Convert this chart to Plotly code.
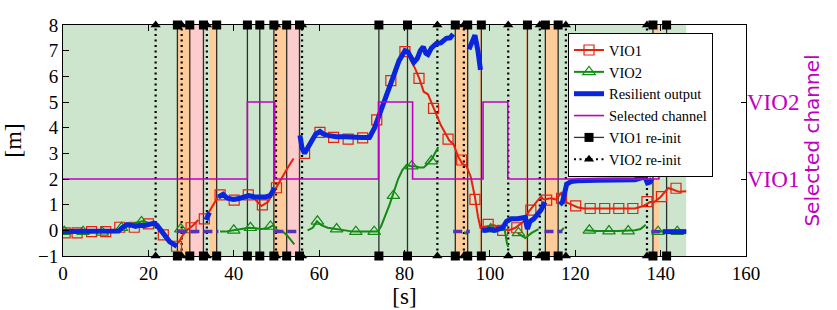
import plotly.graph_objects as go

# ---- data ----
# VIO1 estimate (None = gap)
vio1_t = [0, 5, 10, 13, 14, 15, 17, 19, 21, 22, 23, 24, 25, 26.5, None,
          27, 28, 29, 30.5, 31.7, None,
          33.4, 34.5, 35.5, 36.5, 38, 40, 42, 43.5, 45, 46.5, 48, 49.5, 51, 52.5, 54, None,
          55.5, 56.5, 58, 59.5, 61, 63, 66, 69, 71.5, 73, 74.5, 76, 77.5, 79, 80.5, 81.5,
          82.5, 83.5, 84.5, 85.5, 86.5, 87.5, 88.5, 89.5, 90.5, 91.5, 92.5, 93.5, 94.5,
          95.5, 96.5, 97.2, 97.8, 99, 101, 102.5, 104.4, 106, 107.9, 109.2, 110.7, 111.9,
          112.7, 114.3, 115.5, 116.7, 117.8, 119, 120.5, 122, 125, 130, 134, 136, 137.5,
          138.5, 140, 141, 141.8, 142.7, 144.3, 146]
vio1_y = [-0.08, -0.08, -0.05, 0.0, 0.15, 0.2, 0.15, 0.25, 0.25, 0.15, -0.05, -0.3, -0.45, -0.6, None,
          -0.5, -0.2, 0.0, 0.2, 0.4, None,
          0.5, 0.8, 1.05, 1.35, 1.3, 1.2, 1.3, 1.35, 1.2, 0.95, 1.1, 1.55, 2.0, 2.4, 2.8, None,
          3.7, 3.0, 3.5, 3.8, 3.75, 3.65, 3.6, 3.6, 3.6, 4.1, 4.6, 5.4, 6.1, 6.7, 7.0, 6.6,
          6.3, 5.9, 5.4, 5.3, 4.9, 4.5, 4.1, 3.8, 3.5, 3.35, 2.9, 2.6, 2.5,
          2.1, 1.3, 0.55, 0.1, 0.15, 0.2, 0.1, 0.0, 0.1, 0.35, 0.75, 1.05, 1.3,
          1.2, 1.25, 1.2, 1.45, 1.1, 1.0, 0.9, 0.85, 0.85, 0.85, 0.85, 0.95, 1.1,
          1.1, 1.3, 1.5, 1.65, 1.6, 1.5, 1.52]
vio1_mark_t = [0.5, 3.3, 6.7, 10, 13.3, 16.7, 20, 23.5, 26.6, 30, 33.1, 36.8, 40.1, 43.4, 46.7,
               50, 56.6, 60.2, 63.4, 66.8, 70.2, 73.5, 76.8, 80.1, 83.4, 86.8, 90.2, 93.4,
               96.5, 99.6, 103, 106.3, 109.6, 113.3, 116.8, 120.1, 123.5, 126.9, 130.2,
               133.5, 136.8, 140.2, 143.6]
vio1_mark_y = [-0.1, -0.1, -0.05, -0.05, 0.12, 0.12, 0.25, -0.18, -0.62, 0.1, 0.45, 1.38, 1.18,
               1.38, 0.99, 1.66, 3.0, 3.82, 3.62, 3.55, 3.6, 4.3, 5.83, 6.96, 5.92, 4.75, 3.55,
               2.74, 1.21, 0.23, 0.0, 0.1, 0.79, 1.18, 1.25, 0.95, 0.85, 0.85, 0.85, 0.85,
               1.12, 1.31, 1.64]

# VIO2 estimate
vio2_t = [0, 5, 10, 13, 14, 15, 17, 18.5, 20, 21.5, None,
          26.9, 28.3, None,
          36.8, 38, 40, 42, 43.5, 45, 46.5, 48, 49.3, None,
          50, 51.5, 52.5, 53.5, 54.2, None,
          57.3, 58.5, 59.5, 60.5, 62, 64, 66, 68, 70, 72, 73.7, 74.5, 75.5, 76.5, 77.5, 78.5,
          79.5, 80.5, 81.5, 82.5, 83.5, 84.5, 85.5, 86.5, 87.9, None,
          94, 94.6, None,
          98.2, 100, 102, 103.5, 104, 104.3, None,
          106.5, 108.3, 109.8, 111.4, None,
          116.8, 117.3, None,
          122.3, 125, 130, 134, 135.3, 136.5, None,
          138.5, 142, 146]
vio2_y = [-0.05, -0.05, -0.05, 0.0, 0.15, 0.2, 0.3, 0.35, 0.3, 0.25, None,
          0.0, 0.0, None,
          -0.05, -0.05, 0.0, 0.05, 0.1, 0.08, 0.05, 0.08, 0.2, None,
          0.0, -0.05, -0.2, -0.4, -0.55, None,
          0.0, 0.1, 0.35, 0.2, 0.1, 0.05, 0.0, -0.05, -0.05, -0.05, -0.05, 0.15, 0.55, 1.0, 1.5, 2.0,
          2.35, 2.55, 2.5, 2.5, 2.45, 2.45, 2.6, 2.8, 3.25, None,
          -0.05, -0.15, None,
          0.05, 0.1, 0.05, 0.0, -0.5, -0.65, None,
          -0.1, -0.3, -0.1, 0.05, None,
          0.0, 0.1, None,
          0.0, -0.03, -0.03, 0.0, 0.05, 0.22, None,
          -0.05, -0.05, -0.05]
vio2_mark_t = [0.3, 4.7, 9.2, 13.7, 18.4, 27.6, 40.0, 43.9, 48.6, 59.6, 64.1, 68.6, 72.9, 77.4,
               81.7, 86.3, 100.2, 106.7, 123.3, 127.9, 132.4, 139.4, 143.9]
vio2_mark_y = [-0.05, -0.05, -0.08, 0.1, 0.33, 0.05, 0.0, 0.1, 0.15, 0.35, 0.05, -0.05, -0.05,
               1.35, 2.5, 2.7, 0.05, -0.1, 0.0, -0.03, -0.03, -0.05, -0.05]

# resilient output
res_t = [0, 5, 10, 13, 14, 15, 16, 17, 18, 19, 20, 21.3, 22, 23, 24, 25, 26, 26.7, None,
         33.5, 34.3, None,
         36.4, 37, 37.5, 38.5, 40, 41.5, 42.5, 43.5, 45, 46.5, 47.5, 48.5, 49.2, 49.6, None,
         55.5, 56, 56.6, 57.3, 58.3, 59.2, 60.2, 61, 62, 64, 66, 68, 70, 71.8, 73, 74.2, 75.5,
         77.4, 78.7, 80.1, 80.8, 81.5, 82.2, 83, 83.7, 84.4, 85, 85.5, 86.3, 87.5, 88.5, 89.8,
         90.7, 91.4, None,
         95.1, 95.8, 96.5, 97.2, 97.8, None,
         98.2, 99, 100, 101, 102, 103, 103.9, 105, 106.5, 107.5, 108.2, 108.8, 109.4, 110.3,
         111.2, 112, 112.9, None,
         116.4, 117, 117.5, 118, 119, 120.5, 125, 130, 134, 136.3, 136.9, 137.5, 138.0, None,
         140.5, 146]
res_y = [-0.05, -0.05, -0.05, -0.03, 0.12, 0.22, 0.2, 0.15, 0.2, 0.18, 0.22, 0.28, 0.2, 0.0,
         -0.25, -0.45, -0.55, -0.62, None,
         0.4, 0.7, None,
         1.3, 1.35, 1.4, 1.25, 1.2, 1.25, 1.3, 1.35, 1.3, 1.28, 1.3, 1.35, 1.55, 1.65, None,
         3.7, 3.2, 3.0, 3.2, 3.55, 3.75, 3.85, 3.75, 3.7, 3.65, 3.65, 3.62, 3.62, 3.62, 4.0,
         4.55, 5.2, 6.0, 6.6, 7.0, 6.95, 6.7, 6.55, 6.7, 7.0, 7.15, 6.9, 6.85, 7.1, 7.28, 7.3,
         7.48, 7.5, 7.65, None,
         7.05, 7.3, 7.6, 7.0, 6.25, None,
         0.0, 0.0, 0.05, 0.0, 0.05, 0.1, 0.35, 0.45, 0.45, 0.5, 0.5, 0.05, 0.35, 0.45,
         0.6, 0.8, 1.1, None,
         1.0, 1.1, 1.45, 1.8, 1.9, 1.93, 1.95, 1.95, 1.97, 2.08, 1.85, 1.88, 2.02, None,
         -0.05, -0.05]

# resilient output while a channel is being re-initialised (dashed)
hold_start = [26.8, 49.5, 91.4, 112.8, 137.8]
hold_end = [36.4, 55.5, 95.3, 117.0, 140.5]
hold_level = -0.05

# selected channel (1 = VIO1, 2 = VIO2), step changes
sel_t = [0, 43.2, 49.6, 73.9, 81.9, 98.4, 104.2, 139.6, 146]
sel_ch = [1, 2, 1, 2, 1, 2, 1, 2, 2]

# re-initialisation instants
vio1_reinit = [26.8, 29.7, 32.9, 36.0, 43.2, 46.1, 49.4, 52.4, 55.4, 74.0, 80.7, 91.9, 94.8,
               98.0, 108.8, 113.0, 116.0, 138.2, 141.4]
vio2_reinit = [21.7, 27.8, 33.7, 49.9, 56.0, 87.7, 93.9, 104.3, 111.7, 117.8, 136.8]

# shaded intervals
orange_bands = [(26.8, 29.7), (34.4, 36.0), (49.4, 52.4), (91.9, 94.8), (97.4, 98.0),
                (108.4, 108.8), (113.0, 116.0), (138.2, 139.6)]
pink_bands = [(29.7, 32.9), (52.4, 55.4)]
run_end = 146

RED = "#e8200c"
GREEN = "#138a13"
BLUE = "#0a26dc"
MAG = "#c000c0"
SERIF = "Liberation Serif"

fig = go.Figure()


def vlines(ts):
    xs, ys = [], []
    for t in ts:
        xs += [t, t, None]
        ys += [-1, 8, None]
    return xs, ys


# selected channel
fig.add_trace(go.Scatter(x=sel_t, y=sel_ch, yaxis="y2", mode="lines", line_shape="hv",
                         line=dict(color=MAG, width=1.6), name="Selected channel",
                         legendrank=4))

# re-init lines
x1, y1 = vlines(vio1_reinit)
fig.add_trace(go.Scatter(x=x1, y=y1, mode="lines+markers", name="VIO1 re-init",
                         line=dict(color="rgba(0,0,0,0.8)", width=1.3),
                         marker=dict(symbol="square", size=9, color="black"),
                         cliponaxis=False, legendrank=5))
x2, y2 = vlines(vio2_reinit)
fig.add_trace(go.Scatter(x=x2, y=y2, mode="lines+markers", name="VIO2 re-init",
                         line=dict(color="black", width=2.2, dash="2px,3.5px"),
                         marker=dict(symbol="triangle-up", size=9, color="black"),
                         cliponaxis=False, legendrank=6))

# VIO1
fig.add_trace(go.Scatter(x=vio1_t, y=vio1_y, mode="lines", line=dict(color=RED, width=2),
                         showlegend=False, hoverinfo="skip"))
fig.add_trace(go.Scatter(x=vio1_mark_t, y=vio1_mark_y, mode="markers", showlegend=False,
                         marker=dict(symbol="square-open", size=10, color=RED,
                                     line=dict(width=1.2))))
fig.add_trace(go.Scatter(x=[None], y=[None], mode="lines+markers", name="VIO1",
                         line=dict(color=RED, width=2),
                         marker=dict(symbol="square-open", size=10, color=RED,
                                     line=dict(width=1.2)), legendrank=1))

# VIO2
fig.add_trace(go.Scatter(x=vio2_t, y=vio2_y, mode="lines", line=dict(color=GREEN, width=2),
                         showlegend=False, hoverinfo="skip"))
fig.add_trace(go.Scatter(x=vio2_mark_t, y=vio2_mark_y, mode="markers", showlegend=False,
                         marker=dict(symbol="triangle-up-open", size=11, color=GREEN,
                                     line=dict(width=1.2))))
fig.add_trace(go.Scatter(x=[None], y=[None], mode="lines+markers", name="VIO2",
                         line=dict(color=GREEN, width=2),
                         marker=dict(symbol="triangle-up-open", size=11, color=GREEN,
                                     line=dict(width=1.2)), legendrank=2))

# resilient output
hx, hy = [], []
for a, b in zip(hold_start, hold_end):
    hx += [a, b, None]
    hy += [hold_level, hold_level, None]
fig.add_trace(go.Scatter(x=hx, y=hy, mode="lines", showlegend=False, hoverinfo="skip",
                         line=dict(color="#5433b4", width=3.5, dash="9px,4px")))
fig.add_trace(go.Scatter(x=res_t, y=res_y, mode="lines", name="Resilient output",
                         line=dict(color=BLUE, width=5), legendrank=3))

shapes = [dict(type="rect", xref="x", yref="paper", x0=0, x1=run_end, y0=0, y1=1,
               fillcolor="#cde5cd", line_width=0, layer="below")]
for a, b in orange_bands:
    shapes.append(dict(type="rect", xref="x", yref="paper", x0=a, x1=b, y0=0, y1=1,
                       fillcolor="#fdcc9a", line_width=0, layer="below"))
for a, b in pink_bands:
    shapes.append(dict(type="rect", xref="x", yref="paper", x0=a, x1=b, y0=0, y1=1,
                       fillcolor="#fdcccc", line_width=0, layer="below"))

fig.update_layout(
    width=837, height=310,
    margin=dict(l=63, r=91, t=25, b=54, autoexpand=False),
    paper_bgcolor="white", plot_bgcolor="white",
    shapes=shapes,
    font=dict(family=SERIF, color="black", size=19),
    showlegend=True,
    legend=dict(x=0.7394, y=0.965, xanchor="left", yanchor="top",
                bgcolor="white", bordercolor="black", borderwidth=1,
                font=dict(family=SERIF, size=14.5), itemwidth=30, tracegroupgap=0,
                entrywidth=156, entrywidthmode="pixels"),
    xaxis=dict(range=[0, 160], dtick=20, ticks="inside", ticklen=6, tickcolor="black",
               showgrid=False, zeroline=False, showline=True, linecolor="black",
               linewidth=1, mirror="ticks", automargin=False,
               tickfont=dict(family=SERIF, size=19),
               title=dict(text="[s]", font=dict(family=SERIF, size=23), standoff=4)),
    yaxis=dict(range=[-1, 8], dtick=1, ticks="inside", ticklen=6, tickcolor="black",
               showgrid=False, zeroline=False, showline=True, linecolor="black",
               linewidth=1, mirror=True, automargin=False,
               tickfont=dict(family=SERIF, size=19),
               title=dict(text="[m]", font=dict(family=SERIF, size=24), standoff=10)),
    yaxis2=dict(overlaying="y", side="right", range=[0, 3], tickvals=[1, 2],
                ticktext=["VIO1", "VIO2"], ticks="inside", ticklen=5, tickcolor="black",
                tickfont=dict(color=MAG, size=23, family=SERIF), showgrid=False,
                zeroline=False, automargin=False,
                title=dict(text="Selected channel", font=dict(color=MAG, size=20,
                                                              family="DejaVu Sans"),
                           standoff=6)),
)

# the page body has a default 8px margin; drop it so the figure sits at the window corner
fig.write_html("out.html", config={"displayModeBar": False},
               post_script="document.body.style.margin = '0';")
